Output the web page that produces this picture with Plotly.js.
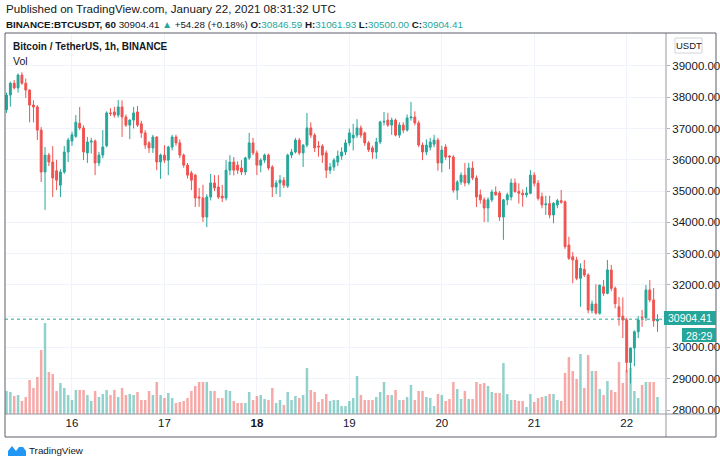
<!DOCTYPE html>
<html>
<head>
<meta charset="utf-8">
<script src="https://cdn.plot.ly/plotly-3.0.1.min.js"></script>
<style>
  html, body { margin: 0; padding: 0; background: #ffffff; }
  #chart { width: 720px; height: 466px; }
</style>
</head>
<body>
<div id="chart"></div>
<script>
// ---- Data (hourly BINANCE:BTCUSDT candles) ----
const firstCandle = '2021-01-15 07:00';   // first hourly candle shown
const open = [
37600,38070,38450,38300,38710,38450,38230,37750,37690,36950,35610,36150,35930,35650,35190,35610,36250,36600,36750,37170,
37020,36220,36570,36600,35900,36150,36450,37500,37530,37430,37690,37370,37110,37270,37530,37150,36860,36540,36380,36730,
35930,36150,35990,36410,36730,36540,36150,35830,35580,35510,34810,34780,34170,34810,35260,35130,34840,34780,35670,35930,
35830,35740,35610,36060,36540,36220,35830,35990,36150,35770,35130,35260,35350,35160,36150,36250,36630,36220,36470,37020,
36790,36440,36440,36220,35670,35770,35930,36120,36250,36540,36700,36790,37020,36860,36540,36380,36250,36570,37210,37270,
37110,37270,36790,37110,36950,37340,37370,37180,36470,36250,36400,36500,36630,35900,36410,36120,36090,35030,35290,35510,
35260,35740,35420,34880,34720,34460,34720,34970,34940,34170,34720,34810,35260,34990,34930,34880,34930,35510,35250,34820,
34560,34600,34235,34555,34694,34660,33275,32900,32796,32210,32497,32316,31175,31390,31090,31943,31730,32476,31890,31300,
31000,30880,29520,29980,30500,30970,30950,31840,31520,30846.59
];
const high = [
38150,38500,38550,38760,38800,38600,38250,37900,37750,37050,36410,36220,36440,36000,35700,36440,36700,36900,37430,37690,
37100,36730,36700,36650,36250,36950,37550,37650,37700,37910,37900,37450,37300,37690,37720,37250,36950,36600,36800,36750,
36200,36470,36450,36800,36800,36650,36200,35900,35650,35550,35100,35200,34900,35550,35510,35510,35200,35990,36150,36090,
35950,35990,36100,36860,36700,36300,36050,36200,36200,35830,35350,35510,35450,36200,36350,36700,36700,36500,37500,37200,
36850,36600,36500,36300,35900,36050,36300,36400,36650,37000,37150,37300,37100,36900,36600,36450,36700,37250,37530,37500,
37350,37320,37200,37200,37450,37850,37550,37250,36550,36650,36700,36800,36700,36450,36500,36150,36150,35350,35600,35900,
35900,35950,35500,35050,34800,34800,35050,35150,35000,34750,34950,35400,35400,35250,35050,35130,35670,35600,35350,34950,
34850,34850,34650,34750,35035,34700,33540,33050,32900,32690,32796,32370,31500,32020,32000,32160,32800,32640,31950,31610,
31600,30950,30000,30550,31000,31200,32000,32160,31900,31061.93
];
const low = [
37500,37700,38250,38150,38400,37980,37200,37200,36630,35290,34400,35800,34810,35030,34810,35550,35930,36450,36700,36950,
35990,35900,36200,35510,35800,36050,36400,37400,37350,37350,36730,37050,36660,37000,37050,36700,36350,36220,36220,35670,
35390,35900,35510,36300,36450,36050,35750,35400,35030,34490,34500,34010,33850,34700,35000,34750,34650,34700,35510,35500,
35550,35510,35510,36000,36150,35510,35600,35900,35670,34810,34900,34810,35100,35100,36050,36200,36150,35770,36400,36700,
36250,36100,35900,35420,35550,35650,35800,36000,36150,36450,36300,36700,36700,36450,36250,36030,36030,36500,37100,37050,
36800,36750,36700,36850,36900,37250,37100,36400,35990,36150,36300,36400,35650,35600,36000,35700,34950,34720,35200,35150,
35200,35350,34490,34600,34010,34010,34650,34850,34050,33440,34550,34700,34950,34600,34500,34800,34900,35150,34700,34450,
34240,34130,33970,34450,34600,33150,32800,32050,32150,31300,32250,31090,31090,31050,31050,31650,31700,31800,31250,30700,
30300,29200,28850,29400,30300,30660,30850,31450,30660,30500
];
const close = [
38070,38450,38300,38710,38450,38230,37750,37690,36950,35610,36150,35930,35420,35350,35610,36250,36630,36800,37200,37020,
36250,36570,36600,35900,36150,36410,37500,37480,37430,37690,37370,37110,37270,37500,37110,36860,36470,36380,36730,35930,
36150,35990,36410,36730,36540,36150,35830,35510,35350,34780,34780,34170,34810,35260,35100,34810,34780,35670,35930,35670,
35670,35610,36060,36540,36220,35830,35990,36150,35740,35130,35260,35350,35190,36150,36250,36630,36220,36470,37020,36790,
36380,36410,36150,35670,35770,35990,36120,36250,36540,36860,36790,37020,36790,36540,36320,36250,36570,37210,37230,37110,
37270,36790,37110,36950,37340,37370,37180,36470,36250,36470,36570,36630,35900,36310,36090,36090,35030,35290,35510,35260,
35740,35420,34810,34720,34460,34720,34970,34880,34170,34720,34880,35260,34980,34930,34880,34940,35510,35250,34770,34560,
34590,34235,34608,34694,34640,33222,32850,32796,32210,32530,32316,31197,31390,31100,31996,31730,32480,31890,31400,30980,
30877,29520,29980,30500,30880,30950,31840,31520,30850,30904.41
];
const volume = [
3450,3300,2700,2850,1950,2550,5100,3900,5550,9600,13650,6300,6000,3450,4650,3900,2850,2100,3600,3600,
3600,2850,1950,3450,2550,3000,3600,2850,3600,2550,3900,2850,3000,2850,3300,2100,2100,3450,2850,4800,
2850,2400,3150,2400,1650,1800,1950,2400,3450,4200,4800,4800,4800,3450,3450,2400,2400,3600,3450,1950,
1650,1650,1650,3300,2100,2700,2850,2250,2100,3900,1650,2100,1350,3300,2100,2700,2400,2850,6900,3600,
3300,1800,2250,3000,1950,2100,2100,1200,1200,1950,2400,5700,2850,2100,2100,2100,2550,3300,4800,2850,
2850,3600,2100,2100,2550,4350,2100,3450,3450,2550,2400,1200,3000,2850,1950,2250,4800,3750,2250,3450,
2250,2250,4800,4500,4650,4200,3300,3150,3150,7650,3000,2100,2100,1950,1950,1050,3000,1800,2400,2550,
2700,3000,3000,2100,1950,6150,8550,6450,5250,9000,3900,8850,6450,6450,3750,2850,4950,3600,3300,7800,
4650,6600,6900,3450,2400,4350,4800,4800,4800,2550
];
const priceTicks = [28000,29000,30000,31000,32000,33000,34000,35000,36000,37000,38000,39000];
const hiddenTick = 31000;   // covered by the last-price label in the reference
const dayTicks = ['2021-01-16','2021-01-17','2021-01-18','2021-01-19','2021-01-20','2021-01-21','2021-01-22'];
const dayLabels = ['16','17','<b>18</b>','19','20','21','22'];
const lastClose = close[close.length - 1];
const countdown = '28:29';

// ---- Build hourly time stamps ----
const t0 = Date.UTC(2021, 0, 15, 7);
const times = open.map((_, i) => new Date(t0 + i * 3600000).toISOString().slice(0, 16).replace('T', ' '));

const GREEN = '#26a69a', RED = '#ef5350';
const volColors = open.map((o, i) => close[i] >= o ? 'rgba(38,166,154,0.5)' : 'rgba(239,83,80,0.5)');

// ---- pixel helpers for decorations ----
const PL = 5, PR = 666, PT = 33, PB = 414;
const px = x => (x - PL) / (PR - PL);
const py = y => (PB - y) / (PB - PT);
const FONT = '"Liberation Sans Narrow", "Liberation Sans", Arial, sans-serif';

const volTrace = {
  type: 'bar', x: times, y: volume, yaxis: 'y2',
  marker: { color: volColors, line: { width: 0 } },
  hoverinfo: 'skip', showlegend: false
};
const candleTrace = {
  type: 'candlestick', x: times, open: open, high: high, low: low, close: close,
  increasing: { line: { color: GREEN, width: 1 }, fillcolor: GREEN },
  decreasing: { line: { color: RED, width: 1 }, fillcolor: RED },
  whiskerwidth: 0, hoverinfo: 'skip', showlegend: false
};

function rect(x0, y0, x1, y1, line, fill) {
  return { type: 'rect', xref: 'paper', yref: 'paper', x0: px(x0), x1: px(x1), y0: py(y0), y1: py(y1),
           line: line, fillcolor: fill || 'rgba(0,0,0,0)', layer: 'above' };
}
function seg(x0, y0, x1, y1, color) {
  return { type: 'line', xref: 'paper', yref: 'paper', x0: px(x0), x1: px(x1), y0: py(y0), y1: py(y1),
           line: { color: color, width: 1 }, layer: 'above' };
}
function txt(x, y, text, opts) {
  return Object.assign({ xref: 'paper', yref: 'paper', x: px(x), y: py(y), text: text, showarrow: false,
    xanchor: 'left', yanchor: 'middle', borderpad: 0, font: { family: FONT, size: 12, color: '#131722' } }, opts || {});
}
const logoPath = (() => {
  const pts = [[8,456],[8,451],[12,446],[16,451],[19,447],[23,447],[26,451],[26,456]];
  return 'M' + pts.map(p => px(p[0]) + ',' + py(p[1])).join(' L') + ' Z';
})();

const G = '<span style="color:#26a69a">';
const layout = {
  width: 720, height: 466,
  margin: { l: PL, r: 720 - PR, t: PT, b: 466 - PB, pad: 0 },
  paper_bgcolor: '#ffffff', plot_bgcolor: '#ffffff',
  font: { family: FONT, size: 11, color: '#131722' },
  showlegend: false,
  bargap: 0.35,
  xaxis: {
    type: 'date', range: ['2021-01-15 06:36:36', '2021-01-22 10:12:24'],
    tickvals: dayTicks, ticktext: dayLabels, ticks: '',
    showgrid: true, gridcolor: '#f0f3fa', gridwidth: 1, zeroline: false, showline: false,
    tickfont: { family: FONT, size: 11.5, color: '#131722' },
    rangeslider: { visible: false }, fixedrange: true
  },
  yaxis: {
    side: 'right', range: [27872, 40055], tickvals: priceTicks,
    ticktext: priceTicks.map(v => v === hiddenTick ? '' : v.toFixed(2)),
    ticks: 'outside', ticklen: 3, tickcolor: '#b2b5be',
    showgrid: true, gridcolor: '#f0f3fa', zeroline: false, showline: false,
    tickfont: { family: FONT, size: 11.5, color: '#131722' }, fixedrange: true
  },
  yaxis2: { overlaying: 'y', range: [0, 57150], visible: false, fixedrange: true },
  shapes: [
    { type: 'line', xref: 'paper', x0: 0, x1: 1, yref: 'y', y0: lastClose, y1: lastClose,
      line: { color: GREEN, width: 1, dash: 'dot' }, layer: 'above' },
    seg(PL, PB, 716, PB, '#9598a1'),
    seg(PR, PT, PR, 437, '#9598a1'),
    rect(5, 33, 716, 437, { color: '#5d606b', width: 1 }),
    rect(664, 311, 716, 325, { width: 0 }, GREEN),
    rect(682, 328, 716, 342, { width: 0 }, GREEN),
    rect(675, 38, 702, 53, { color: '#d1d4dc', width: 1 }, '#ffffff'),
    { type: 'path', xref: 'paper', yref: 'paper', path: logoPath, fillcolor: '#2196f3', line: { width: 0 }, layer: 'above' }
  ],
  annotations: [
    txt(5, 9, 'Published on TradingView.com, January 22, 2021 08:31:32 UTC', { font: { family: FONT, size: 11.6, color: '#131722' } }),
    txt(5, 24, '<b>BINANCE:BTCUSDT, 60</b> 30904.41 <span style="color:#26a69a">▲</span> +54.28 (+0.18%) <b>O:</b>' + G + '30846.59</span> <b>H:</b>' + G + '31061.93</span> <b>L:</b>' + G + '30500.00</span> <b>C:</b>' + G + '30904.41</span>',
      { font: { family: FONT, size: 9.8, color: '#131722' } }),
    txt(12, 47, '<b>Bitcoin / TetherUS, 1h, BINANCE</b>', { font: { family: FONT, size: 10, color: '#131722' } }),
    txt(12, 61, 'Vol', { font: { family: FONT, size: 10.5, color: '#131722' } }),
    txt(688.5, 45.5, 'USDT', { xanchor: 'center', font: { family: FONT, size: 9.5, color: '#131722' } }),
    txt(690, 317.5, lastClose.toFixed(2), { xanchor: 'center', font: { family: FONT, size: 10.5, color: '#ffffff' } }),
    txt(699, 335.5, countdown, { xanchor: 'center', font: { family: FONT, size: 10.5, color: '#ffffff' } }),
    txt(28, 450, 'TradingView', { font: { family: FONT, size: 9.8, color: '#131722' } })
  ]
};

Plotly.newPlot('chart', [volTrace, candleTrace], layout, { staticPlot: true, displayModeBar: false });
</script>
</body>
</html>
